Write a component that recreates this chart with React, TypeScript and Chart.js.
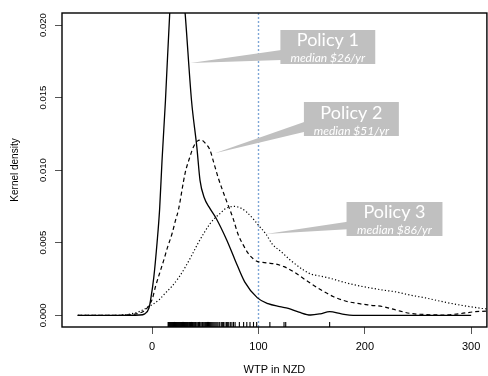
import React, { useEffect, useRef } from "react";
import { Chart, registerables } from "chart.js";

Chart.register(...registerables);

// ---- data ----
const xTickValues = [0, 100, 200, 300];
const yTickValues = [0, 0.005, 0.01, 0.015, 0.02];

const policy1X = [-70, -30, -12, -7, -3, -1.5, 1.5, 4.6, 7, 9.3, 12.5, 16.5, 20, 23.5, 27, 31, 37, 42, 45, 49, 54, 60, 70, 78, 87, 99, 109, 120, 128, 138, 149, 158, 167, 178, 189, 240, 300];
const policy1Y = [0, 0, 0.00002, 0.0001, 0.0005, 0.00105, 0.0026, 0.005, 0.0073, 0.0107, 0.0148, 0.0208, 0.0242, 0.0251, 0.0241, 0.0208, 0.0148, 0.0116, 0.0093, 0.0081, 0.0074, 0.0067, 0.0052, 0.0038, 0.0023, 0.0012, 0.0008, 0.0006, 0.00048, 0.00022, 0.00002, 0.0001, 0.00025, 0.0001, 0, 0, 0];

const policy2X = [-70, -35, -20, -12, -6, -3, 0, 3.2, 7, 10.9, 14.5, 18.6, 21.8, 24.8, 31, 35, 38.8, 42.5, 46.5, 50.5, 54.3, 58, 62, 69.8, 76, 80.7, 86, 90, 95, 99.3, 104, 108.6, 115, 124, 133, 141, 149, 160, 170.6, 181, 192, 205, 217, 230, 242, 257, 273, 288, 304, 320];
const policy2Y = [0, 0, 0.00005, 0.00015, 0.0004, 0.0007, 0.0011, 0.002, 0.0029, 0.0038, 0.0047, 0.0056, 0.0065, 0.0073, 0.0098, 0.0108, 0.0116, 0.012, 0.01207, 0.0118, 0.0114, 0.0105, 0.0095, 0.0079, 0.0067, 0.0056, 0.0048, 0.0043, 0.0039, 0.0037, 0.00365, 0.0036, 0.00355, 0.00335, 0.003, 0.0026, 0.0022, 0.0017, 0.00128, 0.001, 0.00083, 0.0007, 0.0006, 0.00035, 0.00014, 0.00005, 0.00002, 0.0001, 0.00025, 0.0003];

const policy3X = [-70, -35, -20, -12.4, -3, 6.2, 12, 18.6, 25, 31, 37, 43.4, 49, 54.3, 59, 63.6, 68, 72, 77.6, 83, 89, 96, 100, 107, 113, 121, 130, 142.7, 149, 158, 167.4, 176.7, 190, 204, 217, 230, 242, 257, 273, 290, 310, 320];
const policy3Y = [0, 0, 0.0001, 0.00025, 0.0006, 0.00105, 0.0015, 0.002, 0.0026, 0.0033, 0.0041, 0.005, 0.0057, 0.0063, 0.0067, 0.007, 0.0073, 0.00745, 0.0075, 0.0074, 0.0071, 0.00656, 0.0062, 0.0056, 0.0049, 0.0044, 0.0038, 0.0031, 0.00285, 0.0027, 0.00255, 0.00235, 0.0021, 0.0019, 0.00174, 0.0016, 0.0014, 0.0012, 0.00094, 0.0007, 0.00048, 0.0004];

const rugValues = [
  15, 15.5, 16, 16.5, 17, 17.5, 18, 18.5, 19, 19.5, 20, 20.5, 21, 21.5, 22, 22.5, 23, 23.5, 24, 24.5,
  25, 25.5, 26, 26.5, 27, 27.5, 28, 28.5, 29, 29.5, 30, 30.5, 31, 31.5, 32, 32.5, 33, 33.5, 34,
  35, 35.5, 36, 37, 37.5, 38, 39, 40, 40.5, 41, 42, 43, 43.5, 44.5, 45, 46, 47, 47.5, 48.5, 49.5,
  50, 51, 52, 53, 54, 55, 56, 57, 58, 59, 60, 61, 62, 63.5, 65, 66, 67, 68.5, 70, 71, 72, 73.5, 75, 76.5, 78,
  82, 86, 89, 92, 95.3, 98.3, 110.7, 124, 125.6, 166.9,
];

const referenceLineX = 100;

const calloutTitles = ["Policy 1", "Policy 2", "Policy 3"];
const calloutSubtitles = ["median $26/yr", "median $51/yr", "median $86/yr"];

// ---- layout (data coordinates) ----
const X_MIN = -84.8;
const X_MAX = 314.8;
const Y_MIN = -0.000806;
const Y_MAX = 0.020827;
const RUG_Y = -0.00063;

const calloutGeometry = [
  { x1: 120.6, x2: 209.8, yTop: 0.019656, yBottom: 0.017313, tipX: 36.0, tipY: 0.017382, baseTop: 0.018278, baseBottom: 0.017589 },
  { x1: 142.7, x2: 232.0, yTop: 0.014695, yBottom: 0.012353, tipX: 58.9, tipY: 0.011161, baseTop: 0.013338, baseBottom: 0.012649 },
  { x1: 182.8, x2: 273.0, yTop: 0.007806, yBottom: 0.005464, tipX: 106.9, tipY: 0.005601, baseTop: 0.006449, baseBottom: 0.005925 },
];

const AXIS_FONT = "'Liberation Sans', Arial, Helvetica, sans-serif";

const toPoints = (xs: number[], ys: number[]) => xs.map((x, i) => ({ x, y: ys[i] }));

const framePlugin = {
  id: "frame",
  afterDatasetsDraw(chart: any) {
    const { ctx, chartArea: a } = chart;
    ctx.save();
    ctx.strokeStyle = "#000";
    ctx.lineWidth = 1.4;
    ctx.strokeRect(a.left, a.top, a.right - a.left, a.bottom - a.top);
    ctx.restore();
  },
};

const calloutPlugin = {
  id: "callouts",
  afterDatasetsDraw(chart: any) {
    const { ctx } = chart;
    const xs = chart.scales.x;
    const ys = chart.scales.y;
    calloutGeometry.forEach((g, i) => {
      const left = xs.getPixelForValue(g.x1);
      const right = xs.getPixelForValue(g.x2);
      const top = ys.getPixelForValue(g.yTop);
      const bottom = ys.getPixelForValue(g.yBottom);
      ctx.save();
      ctx.fillStyle = "#c0c0c0";
      ctx.beginPath();
      ctx.moveTo(xs.getPixelForValue(g.tipX), ys.getPixelForValue(g.tipY));
      ctx.lineTo(left + 1, ys.getPixelForValue(g.baseTop));
      ctx.lineTo(left + 1, ys.getPixelForValue(g.baseBottom));
      ctx.closePath();
      ctx.fill();
      ctx.fillRect(left, top, right - left, bottom - top);
      ctx.beginPath();
      ctx.rect(left, top, right - left, bottom - top);
      ctx.clip();
      ctx.fillStyle = "#ffffff";
      ctx.textAlign = "center";
      ctx.textBaseline = "alphabetic";
      const cx = (left + right) / 2;
      ctx.font = "18px Lato, 'Open Sans', sans-serif";
      ctx.fillText(calloutTitles[i], cx, top + 16.5);
      ctx.font = "italic 12px Lato, 'Open Sans', sans-serif";
      ctx.fillText(calloutSubtitles[i], cx, top + 32.5);
      ctx.restore();
    });
  },
};

export default function App() {
  const canvasRef = useRef<HTMLCanvasElement | null>(null);

  useEffect(() => {
    if (!canvasRef.current) return;
    const curve = (data: any, dash: number[], width: number) => ({
      type: "line" as const,
      data,
      borderColor: "#000",
      borderWidth: width,
      borderDash: dash,
      pointRadius: 0,
      fill: false,
      tension: 0.4,
      cubicInterpolationMode: "monotone" as const,
    });
    const chart = new Chart(canvasRef.current, {
      type: "line",
      data: {
        datasets: [
          curve(toPoints(policy1X, policy1Y), [], 1.3),
          curve(toPoints(policy2X, policy2Y), [4, 3], 1.2),
          curve(toPoints(policy3X, policy3Y), [1.2, 2.2], 1.2),
          {
            type: "line" as const,
            data: [
              { x: referenceLineX, y: Y_MIN },
              { x: referenceLineX, y: Y_MAX },
            ],
            borderColor: "#7ea6d6",
            borderWidth: 1.4,
            borderDash: [2, 2],
            pointRadius: 0,
            fill: false,
          },
          {
            type: "scatter" as const,
            data: rugValues.map((v) => ({ x: v, y: RUG_Y })),
            pointStyle: "line",
            pointRadius: 2.5,
            pointRotation: 90,
            pointBorderColor: "#000",
            pointBorderWidth: 1.1,
            borderColor: "#000",
            showLine: false,
          },
        ] as any,
      },
      options: {
        responsive: false,
        animation: false,
        events: [],
        layout: { padding: { top: 13, right: 0, left: 0, bottom: 0 } },
        plugins: { legend: { display: false }, tooltip: { enabled: false } },
        scales: {
          x: {
            type: "linear",
            min: X_MIN,
            max: X_MAX,
            afterBuildTicks: (s: any) => {
              s.ticks = xTickValues.map((v) => ({ value: v }));
            },
            afterFit: (s: any) => {
              s.height = 49;
            },
            grid: { drawOnChartArea: false, drawTicks: true, tickLength: 7, color: "#555", lineWidth: 1 },
            border: { display: false },
            ticks: {
              font: { family: AXIS_FONT, size: 11 },
              color: "#000",
              padding: 6,
              maxRotation: 0,
              autoSkip: false,
              callback: (v: any) => String(v),
            },
            title: {
              display: true,
              text: "WTP in NZD",
              color: "#000",
              font: { family: AXIS_FONT, size: 11, lineHeight: 1.1 },
              padding: { top: 0, bottom: 0 },
            },
          },
          y: {
            type: "linear",
            min: Y_MIN,
            max: Y_MAX,
            afterBuildTicks: (s: any) => {
              s.ticks = yTickValues.map((v) => ({ value: v }));
            },
            afterFit: (s: any) => {
              s.width = 62;
            },
            grid: { drawOnChartArea: false, drawTicks: true, tickLength: 7, color: "#555", lineWidth: 1 },
            border: { display: false },
            ticks: {
              font: { family: AXIS_FONT, size: 9.5 },
              color: "#000",
              padding: 0,
              minRotation: 90,
              maxRotation: 90,
              crossAlign: "center",
              autoSkip: false,
              callback: (v: any) => Number(v).toFixed(3),
            },
            title: {
              display: true,
              text: "Kernel density",
              color: "#000",
              font: { family: AXIS_FONT, size: 10, lineHeight: 1.2 },
              padding: { top: 9, bottom: 0 },
            },
          },
        },
      } as any,
      plugins: [framePlugin, calloutPlugin],
    });
    return () => chart.destroy();
  }, []);

  return (
    <div style={{ position: "fixed", left: 0, top: 0, width: 492, height: 376, background: "#fff" }}>
      <canvas ref={canvasRef} width={492} height={376} style={{ display: "block" }} />
    </div>
  );
}
